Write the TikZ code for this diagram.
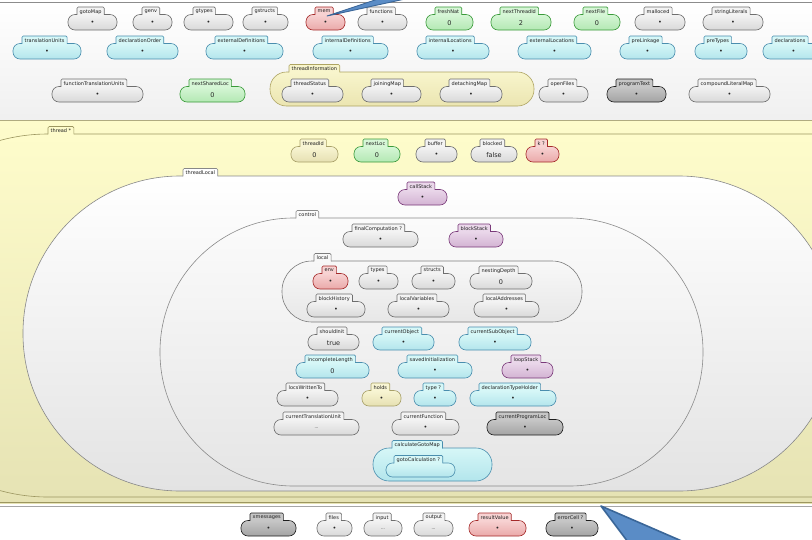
\documentclass[tikz,border=0pt]{standalone}
\usepackage{fontspec}
\newfontfamily\kfont{DejaVu Sans}
\usetikzlibrary{calc}
% leaf colours: T top, B bottom, D border
\definecolor{gT}{HTML}{F3F3F3}\definecolor{gB}{HTML}{D9D9D9}\definecolor{gD}{HTML}{6E6E6E}
\definecolor{rT}{HTML}{F7D2D2}\definecolor{rB}{HTML}{EAA9A9}\definecolor{rD}{HTML}{A52A2A}
\definecolor{nT}{HTML}{D6F6D6}\definecolor{nB}{HTML}{B3E8B3}\definecolor{nD}{HTML}{3A9A3A}
\definecolor{cT}{HTML}{D6F7F7}\definecolor{cB}{HTML}{B3E5EC}\definecolor{cD}{HTML}{4A8EAE}
\definecolor{yT}{HTML}{F8F5D3}\definecolor{yB}{HTML}{E6E0B2}\definecolor{yD}{HTML}{A8A068}
\definecolor{pT}{HTML}{EAD7EA}\definecolor{pB}{HTML}{D3B3D3}\definecolor{pD}{HTML}{7A3A7A}
\definecolor{dT}{HTML}{C6C6C6}\definecolor{dB}{HTML}{A3A3A3}\definecolor{dD}{HTML}{1E1E1E}
% container colours
\definecolor{tT}{HTML}{F8F5CC}\definecolor{tB}{HTML}{EBE5B1}\definecolor{tD}{HTML}{AEA462}
\definecolor{lT}{HTML}{F8F8F8}\definecolor{lB}{HTML}{E7E7E7}\definecolor{lD}{HTML}{7C7C7C}
\definecolor{oT}{HTML}{FBFBFB}\definecolor{oB}{HTML}{E5E5E5}\definecolor{oD}{HTML}{8A8A8A}
\definecolor{wT}{HTML}{FFFFFF}\definecolor{wB}{HTML}{E3E3E3}\definecolor{wD}{HTML}{888888}
\definecolor{hT}{HTML}{FEFCCB}\definecolor{hB}{HTML}{E6E3B4}\definecolor{hD}{HTML}{9C9660}
\definecolor{arrowA}{HTML}{5A8CC6}\definecolor{arrowB}{HTML}{3A6698}

\newcommand\klabfont{\kfont\fontsize{5}{5}\selectfont}
\newcommand\kvalfont{\kfont\fontsize{6.5}{7}\selectfont}
\newcommand\kdots{{\kfont\fontsize{4}{4}\selectfont...}}

\tikzset{
  ktab/.style={font=\klabfont, inner xsep=2.5pt, inner ysep=0pt, minimum height=8pt,
    anchor=north west, text=black!88, text depth=0pt},
  kbody/.style={inner sep=0pt, outer sep=0pt, anchor=north west, line width=0.6pt},
  kval/.style={font=\kvalfont, inner sep=0pt, text=black!85},
  kside/.style={line width=0.6pt, rounded corners=1.2pt},
}

% #1 name, #2 colour prefix, #3 body left, #4 body right, #5 tab top, #6 label, #7 value
\newcommand\kcell[7]{%
  \node[kbody, rounded corners=7pt, draw=#2D, top color=#2T, bottom color=#2B,
    minimum width={(#4-#3)*1pt}, minimum height=15.5pt] (#1) at (#3,#5+7.5) {};
  \node[ktab, fill=#2T] (#1-t) at (#3+9,#5) {#6};
  \draw[kside, #2D] ([yshift=0.5pt]#1-t.south west) -- (#1-t.north west)
    -- (#1-t.north east) -- ([yshift=0.5pt]#1-t.south east);
  \node[kval] (#1-v) at ([yshift=-0.8pt]#1.center) {#7};
}
% #1 name, #2 colour, #3 left, #4 top, #5 right, #6 bottom, #7 radius, #8 tab x, #9 label
\newcommand\kbox[9]{%
  \node[kbody, rounded corners=#7pt, draw=#2D, top color=#2T, bottom color=#2B,
    minimum width={(#5-#3)*1pt}, minimum height={(#6-#4)*1pt}] (#1) at (#3,#4) {};
  \node[ktab, fill=#2T] (#1-t) at (#8,#4-7.5) {#9};
  \draw[kside, #2D] ([yshift=0.5pt]#1-t.south west) -- (#1-t.north west)
    -- (#1-t.north east) -- ([yshift=0.5pt]#1-t.south east);
}

\begin{document}
\begin{tikzpicture}[x=1pt,y=-1pt]
\useasboundingbox (0,0) rectangle (812,539);
\clip (0,0) rectangle (812,539);
\fill[white] (0,0) rectangle (812,539);

% outer configuration cell
\path[top color=white, bottom color=black!6] (-10,2) rectangle (822,120);
\draw[black!45, line width=0.7pt] (-10,2) -- (822,2);
% threads area
\path[top color=hT, bottom color=hB] (-10,120) rectangle (822,503);
\draw[hD!80, line width=0.6pt] (-10,120.5) -- (822,120.5);
\draw[hD, line width=0.7pt] (-10,502.8) -- (822,502.8);
\draw[black!35, line width=1.4pt] (-10,506.6) -- (822,506.6);

% ---- top rows ----
\kcell{gotoMap}{g}{68}{117}{7}{gotoMap}{•}
\kcell{genv}{g}{133}{172}{7}{genv}{•}
\kcell{gtypes}{g}{184}{233}{7}{gtypes}{•}
\kcell{gstructs}{g}{243}{288}{7}{gstructs}{•}
\kcell{mem}{r}{306}{345}{7}{mem}{•}
\kcell{functions}{g}{358}{407}{7}{functions}{•}
\kcell{freshNat}{n}{426}{473}{7}{freshNat}{0}
\kcell{nextThreadId}{n}{491}{551}{7}{nextThreadId}{2}
\kcell{nextFile}{n}{574}{620}{7}{nextFile}{0}
\kcell{malloced}{g}{635}{685}{7}{malloced}{•}
\kcell{stringLiterals}{g}{703}{763}{7}{stringLiterals}{•}

\kcell{translationUnits}{c}{13}{81}{36}{translationUnits}{•}
\kcell{declarationOrder}{c}{107}{178}{36}{declarationOrder}{•}
\kcell{externalDefinitions}{c}{206}{283}{36}{externalDefinitions}{•}
\kcell{internalDefinitions}{c}{313}{388}{36}{internalDefinitions}{•}
\kcell{internalLocations}{c}{417}{489}{36}{internalLocations}{•}
\kcell{externalLocations}{c}{518}{591}{36}{externalLocations}{•}
\kcell{preLinkage}{c}{620}{675}{36}{preLinkage}{•}
\kcell{preTypes}{c}{695}{747}{36}{preTypes}{•}
\kcell{declarations}{c}{763}{824}{36}{declarations}{•}

\kcell{functionTranslationUnits}{g}{52}{143}{79}{functionTranslationUnits}{•}
\kcell{nextSharedLoc}{n}{180}{245}{79}{nextSharedLoc}{0}
\kbox{threadInformation}{t}{270}{72}{534}{106}{16.5}{289}{threadInformation}
\kcell{threadStatus}{g}{282}{343}{79}{threadStatus}{•}
\kcell{joiningMap}{g}{362}{421}{79}{joiningMap}{•}
\kcell{detachingMap}{g}{440}{502}{79}{detachingMap}{•}
\kcell{openFiles}{g}{539}{588}{79}{openFiles}{•}
\kcell{programText}{d}{607}{666}{79}{programText}{•}
\kcell{compoundLiteralMap}{g}{689}{770}{79}{compoundLiteralMap}{•}

% ---- thread ----
\kbox{thread}{h}{-133}{134}{1000}{497}{181}{48}{thread *}
\kcell{threadId}{y}{291}{338}{139}{threadId}{0}
\kcell{nextLoc}{n}{354}{400}{139}{nextLoc}{0}
\kcell{buffer}{g}{416}{457}{139}{buffer}{•}
\kcell{blocked}{g}{471}{517}{139}{blocked}{false}
\kcell{k}{r}{526}{559}{139}{k ?}{•}

\kbox{threadLocal}{w}{23}{176}{836}{491}{157}{183}{threadLocal}
\kcell{callStack}{p}{398}{447}{182}{callStack}{•}

\kbox{control}{o}{160}{218}{703}{486}{133.5}{296}{control}
\kcell{finalComputation}{g}{343}{418}{224}{finalComputation ?}{•}
\kcell{blockStack}{p}{449}{503}{224}{blockStack}{•}

\kbox{local}{l}{282}{261}{582}{322}{30}{314}{local}
\kcell{env}{r}{313}{348}{266}{env}{•}
\kcell{types}{g}{359}{398}{266}{types}{•}
\kcell{structs}{g}{412}{455}{266}{structs}{•}
\kcell{nestingDepth}{g}{470}{532}{266}{nestingDepth}{0}
\kcell{blockHistory}{g}{307}{365}{294}{blockHistory}{•}
\kcell{localVariables}{g}{388}{449}{294}{localVariables}{•}
\kcell{localAddresses}{g}{474}{539}{294}{localAddresses}{•}

\kcell{shouldInit}{g}{308}{359}{327}{shouldInit}{true}
\kcell{currentObject}{c}{373}{434}{327}{currentObject}{•}
\kcell{currentSubObject}{c}{459}{531}{327}{currentSubObject}{•}
\kcell{incompleteLength}{c}{296}{369}{355}{incompleteLength}{0}
\kcell{savedInitialization}{c}{398}{472}{355}{savedInitialization}{•}
\kcell{loopStack}{p}{502}{553}{355}{loopStack}{•}
\kcell{locsWrittenTo}{g}{277}{338}{383}{locsWrittenTo}{•}
\kcell{holds}{y}{362}{401}{383}{holds}{•}
\kcell{type}{c}{414}{456}{383}{type ?}{•}
\kcell{declarationTypeHolder}{c}{470}{556}{383}{declarationTypeHolder}{•}
\kcell{currentTranslationUnit}{g}{274}{359}{412}{currentTranslationUnit}{\kdots}
\kcell{currentFunction}{g}{392}{459}{412}{currentFunction}{•}
\kcell{currentProgramLoc}{d}{487}{563}{412}{currentProgramLoc}{•}
\kbox{calculateGotoMap}{c}{373}{448}{492}{481}{16}{392}{calculateGotoMap}
\kbox{gotoCalculation}{c}{386}{463}{455}{477}{6.5}{394}{gotoCalculation ?}

% ---- bottom strip ----
\kcell{xmessages}{d}{241}{296}{513}{xmessages}{•}
\kcell{files}{g}{317}{352}{513}{files}{•}
\kcell{input}{g}{364}{402}{513}{input}{\kdots}
\kcell{output}{g}{414}{453}{513}{output}{\kdots}
\kcell{resultValue}{r}{469}{526}{513}{resultValue}{•}
\kcell{errorCell}{d}{546}{598}{513}{errorCell ?}{•}

% ---- pointer wedges ----
\coordinate (topTip) at (327,16);
\coordinate (topWedgeA) at (405,-10);
\coordinate (topWedgeB) at (405,-1);
\fill[arrowA, draw=arrowB, line width=0.9pt, line join=round] (topTip) -- (topWedgeA) -- (topWedgeB) -- cycle;
\coordinate (botTip) at (601,506);
\coordinate (botA) at (628,542);
\coordinate (botB) at (684,542);
\fill[arrowA, draw=arrowB, line width=1.6pt, line join=round] (botTip) -- (botA) -- (botB) -- cycle;
\end{tikzpicture}
\end{document}
